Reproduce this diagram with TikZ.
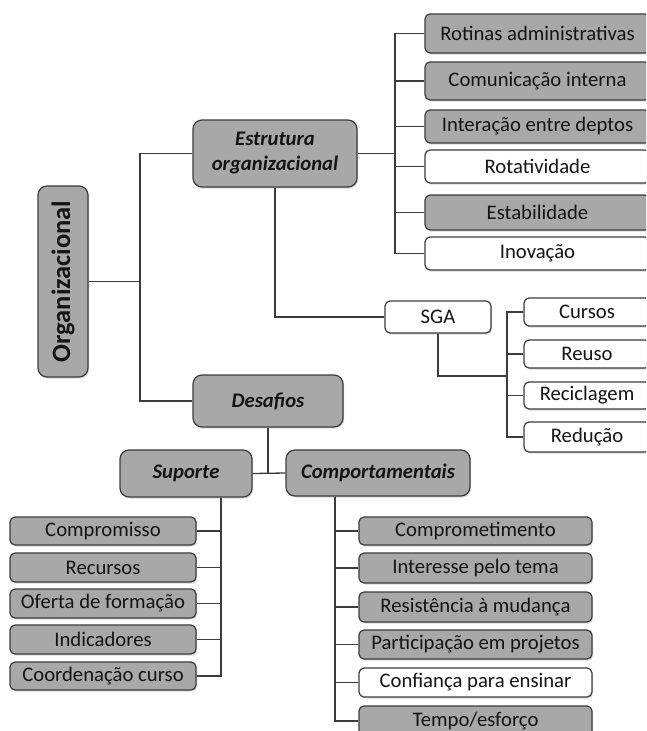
\documentclass[tikz,border=0pt]{standalone}
\usepackage{fontspec}
\setmainfont{Carlito}
\usetikzlibrary{shadows}
\definecolor{boxgray}{HTML}{A8A8A8}
\definecolor{edge}{HTML}{3C3C3C}
\tikzset{
  x=1pt, y=-1pt,
  card/.style={draw=edge, line width=1.2pt, rounded corners=5pt, inner sep=2pt,
    font=\fontsize{20.7}{24}\selectfont, text=black!92, align=center,
    drop shadow={shadow xshift=1.2pt, shadow yshift=-1.6pt, opacity=0.3}},
  graycard/.style={card, fill=boxgray},
  whitecard/.style={card, fill=white},
  headcard/.style={graycard, rounded corners=9pt, font=\fontsize{20.7}{25}\selectfont\bfseries\itshape},
  link/.style={draw=edge, line width=1.3pt}
}
\begin{document}
\begin{tikzpicture}
\useasboundingbox (0,0) rectangle (646,731);
\clip (0,0) rectangle (646,731);

% root
\node[headcard, font=\fontsize{26.5}{30}\selectfont\bfseries, minimum width=50, minimum height=191] (org) at (63,281.5) {\rotatebox{90}{Organizacional}};

% main branches
\node[headcard, minimum width=164, minimum height=67] (est) at (275,153.5) {Estrutura\\organizacional};
\node[headcard, minimum width=150, minimum height=52] (des) at (268,401) {Desafios};
\node[headcard, minimum width=132, minimum height=47] (sup) at (186,473.5) {Suporte};
\node[headcard, minimum width=184, minimum height=46] (cpt) at (378,473) {Comportamentais};
\node[whitecard, minimum width=106, minimum height=32] (sga) at (438,317) {SGA};

% organisational structure items
\node[graycard, minimum width=225, minimum height=39] (rot) at (537.5,33.5) {Rotinas administrativas};
\node[graycard, minimum width=225, minimum height=38] (cin) at (537.5,81) {Comunicação interna};
\node[graycard, minimum width=225, minimum height=33] (int) at (537.5,126.5) {Interação entre deptos};
\node[whitecard, minimum width=225, minimum height=33] (rtv) at (537.5,166.5) {Rotatividade};
\node[graycard, minimum width=225, minimum height=35] (etb) at (537.5,212.5) {Estabilidade};
\node[whitecard, minimum width=225, minimum height=33] (ino) at (537.5,253.5) {Inovação};

% SGA items
\node[whitecard, minimum width=126, minimum height=28] (cur) at (587,312) {Cursos};
\node[whitecard, minimum width=126, minimum height=28] (reu) at (587,354) {Reuso};
\node[whitecard, minimum width=126, minimum height=27] (rec) at (587,395.5) {Reciclagem};
\node[whitecard, minimum width=126, minimum height=30] (red) at (587,437) {Redução};

% support items
\node[graycard, minimum width=186, minimum height=28] (cpm) at (103,531) {Compromisso};
\node[graycard, minimum width=186, minimum height=29] (rcs) at (103,567.5) {Recursos};
\node[graycard, minimum width=186, minimum height=29] (ofe) at (103,603.5) {Oferta de formação};
\node[graycard, minimum width=186, minimum height=29] (ind) at (103,639.5) {Indicadores};
\node[graycard, minimum width=186, minimum height=28] (coo) at (103,676) {Coordenação curso};

% behavioural items
\node[graycard, minimum width=233, minimum height=28] (cmt) at (475.5,531) {Comprometimento};
\node[graycard, minimum width=233, minimum height=30] (itr) at (475.5,568) {Interesse pelo tema};
\node[graycard, minimum width=233, minimum height=30] (res) at (475.5,607) {Resistência à mudança};
\node[graycard, minimum width=233, minimum height=29] (par) at (475.5,644.5) {Participação em projetos};
\node[whitecard, minimum width=233, minimum height=29] (cfe) at (475.5,682.5) {Confiança para ensinar};
\node[graycard, minimum width=233, minimum height=30] (tem) at (475.5,721) {Tempo/esforço};

% bus lines
\coordinate (bOrg) at (140,281.5);
\coordinate (bEst) at (395,0);
\coordinate (bSga) at (507,0);
\coordinate (jSga) at (507,376);
\coordinate (bSup) at (221,0);
\coordinate (bCpt) at (335,0);

\draw[link] (org.east) -- (bOrg);
\draw[link] (est.west) -| (bOrg) |- (des.west);

\draw[link] (est.east) -- (est.east -| bEst);
\draw[link] (rot.west) -| (bEst |- ino.west) -- (ino.west);
\foreach \n in {cin,int,rtv,etb} \draw[link] (\n.west) -- (\n.west -| bEst);

\draw[link] (est.south) |- (sga.west);
\draw[link] (sga.south) |- (jSga);
\draw[link] (cur.west) -| (bSga |- red.west) -- (red.west);
\foreach \n in {reu,rec} \draw[link] (\n.west) -- (\n.west -| bSga);

\draw[link] (des.south) -- (des.south |- sup.east);
\draw[link] (sup.east) -- (cpt.west);

\draw[link] (sup.south -| bSup) -- (bSup |- coo.east) -- (coo.east);
\foreach \n in {cpm,rcs,ofe,ind} \draw[link] (\n.east) -- (\n.east -| bSup);

\draw[link] (cpt.south -| bCpt) -- (bCpt |- tem.west) -- (tem.west);
\foreach \n in {cmt,itr,res,par,cfe} \draw[link] (\n.west) -- (\n.west -| bCpt);
\end{tikzpicture}
\end{document}
